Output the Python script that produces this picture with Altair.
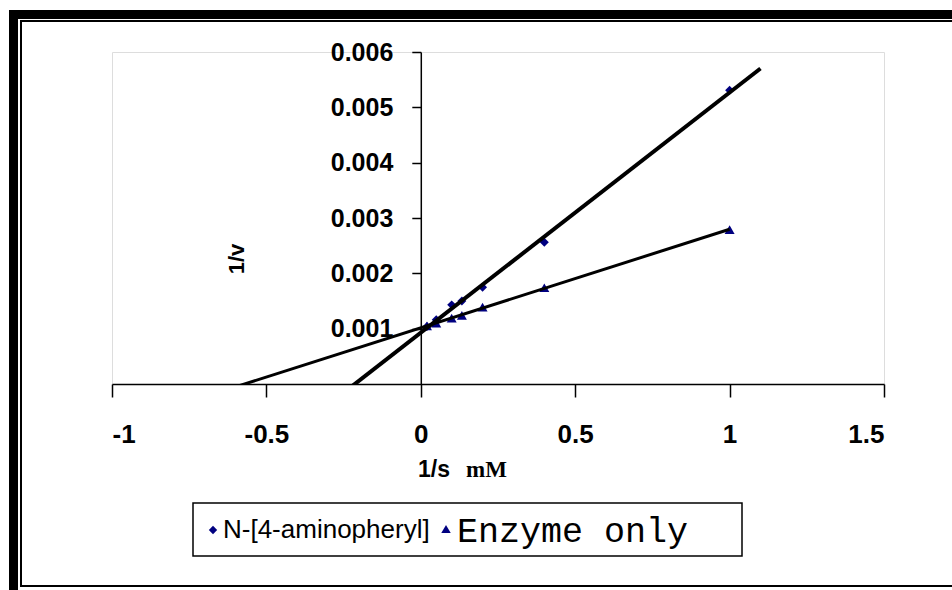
import altair as alt
import pandas as pd

# Lineweaver-Burk data: 1/[S] (mM^-1) against 1/v
inv_s_inhib = [0.02, 0.05, 0.1, 0.133, 0.2, 0.4, 1.0]
inv_v_inhib = [0.00104, 0.00116, 0.00143, 0.00150, 0.00175, 0.00256, 0.00531]

inv_s_enzyme = [0.02, 0.05, 0.1, 0.133, 0.2, 0.4, 1.0]
inv_v_enzyme = [0.00105, 0.00110, 0.00119, 0.00124, 0.00139, 0.00174, 0.00279]

series_names = ["N-[4-aminopheryl]", "Enzyme only"]

x_ticks = [-1, -0.5, 0, 0.5, 1, 1.5]
y_ticks = [0.001, 0.002, 0.003, 0.004, 0.005, 0.006]

X_MIN, X_MAX = -1.0, 1.5
Y_MIN, Y_MAX = 0.0, 0.006
W, H = 772, 332
PAD_L, PAD_T = 112, 52
NAVY = "#000080"

inhib = pd.DataFrame({"x": inv_s_inhib, "y": inv_v_inhib})
enzyme = pd.DataFrame({"x": inv_s_enzyme, "y": inv_v_enzyme})
one = pd.DataFrame({"k": [0]})

x_scale = alt.Scale(domain=[X_MIN, X_MAX], nice=False, zero=False)
y_scale = alt.Scale(domain=[Y_MIN, Y_MAX], nice=False)

# y axis sits on x = 0, shifted in from the left edge of the plot
y_offset = -W * (0 - X_MIN) / (X_MAX - X_MIN)

x_axis = alt.Axis(
    values=x_ticks, labelExpr="toString(datum.value)", title=None, grid=False,
    domainColor="black", domainWidth=1.5, tickColor="black", tickWidth=1.5,
    tickSize=13, labelPadding=24, labelFont="Liberation Sans", labelFontSize=26,
    labelFontWeight="bold", labelColor="black",
)
y_axis = alt.Axis(
    values=y_ticks, format=".3f", title=None, grid=False, offset=y_offset,
    domainColor="black", domainWidth=1.5, tickColor="black", tickWidth=1.5,
    tickSize=9, labelPadding=19, labelFont="Liberation Sans", labelFontSize=25,
    labelFontWeight="bold", labelColor="black",
)

pts_inhib = alt.Chart(inhib).mark_point(
    shape="diamond", filled=True, color=NAVY, size=80, opacity=1
).encode(
    x=alt.X("x:Q", scale=x_scale, axis=x_axis),
    y=alt.Y("y:Q", scale=y_scale, axis=y_axis),
)
pts_enzyme = alt.Chart(enzyme).mark_point(
    shape="triangle-up", filled=True, color=NAVY, size=100, opacity=1
).encode(x=alt.X("x:Q", scale=x_scale), y=alt.Y("y:Q", scale=y_scale))

# linear trendlines, extended back towards the x intercept
fit_inhib = alt.Chart(inhib).transform_regression(
    "x", "y", extent=[-0.3, 1.1]
).mark_line(color="black", strokeWidth=4, clip=True).encode(
    x=alt.X("x:Q", scale=x_scale), y=alt.Y("y:Q", scale=y_scale)
)
fit_enzyme = alt.Chart(enzyme).transform_regression(
    "x", "y", extent=[-0.7, 1.0]
).mark_line(color="black", strokeWidth=3, clip=True).encode(
    x=alt.X("x:Q", scale=x_scale), y=alt.Y("y:Q", scale=y_scale)
)

def px(v):
    return alt.value(v - PAD_L)

def py(v):
    return alt.value(v - PAD_T)

base = alt.Chart(one)

# double frame round the chart
frame_top = base.mark_rect(color="black").encode(x=px(9), x2=px(952), y=py(10), y2=py(19))
frame_left = base.mark_rect(color="black").encode(x=px(9), x2=px(18), y=py(10), y2=py(590))
frame_inner = base.mark_rect(fill=None, stroke="black", strokeWidth=2).encode(
    x=px(21), x2=px(960), y=py(21), y2=py(586)
)

y_title = base.mark_text(
    text="1/v", angle=270, font="Liberation Sans", fontSize=22, fontWeight="bold", color="black"
).encode(x=px(237), y=py(259))
x_title_a = base.mark_text(
    text="1/s", font="Liberation Sans", fontSize=23, fontWeight="bold", color="black", align="left"
).encode(x=px(418), y=py(470))
x_title_b = base.mark_text(
    text="mM", font="Liberation Serif", fontSize=23, fontWeight="bold", color="black", align="left"
).encode(x=px(466), y=py(470))

legend_box = base.mark_rect(fill="white", stroke="black", strokeWidth=1.5).encode(
    x=px(193), x2=px(742), y=py(503), y2=py(556)
)
legend_sym1 = base.mark_point(shape="diamond", filled=True, color=NAVY, size=70, opacity=1).encode(
    x=px(213), y=py(530)
)
legend_txt1 = base.mark_text(
    text=series_names[0], font="Liberation Sans", fontSize=26, color="black", align="left"
).encode(x=px(223), y=py(530))
legend_sym2 = base.mark_point(shape="triangle-up", filled=True, color=NAVY, size=90, opacity=1).encode(
    x=px(446), y=py(529)
)
legend_txt2 = base.mark_text(
    text=series_names[1], font="Liberation Mono", fontSize=35, color="black", align="left"
).encode(x=px(457), y=py(531))

chart = alt.layer(
    pts_inhib, pts_enzyme, fit_inhib, fit_enzyme,
    frame_top, frame_left, frame_inner,
    y_title, x_title_a, x_title_b,
    legend_box, legend_sym1, legend_txt1, legend_sym2, legend_txt2,
).properties(
    width=W, height=H,
    autosize=alt.AutoSizeParams(type="none"),
    padding={"left": PAD_L, "top": PAD_T, "right": 952 - PAD_L - W, "bottom": 590 - PAD_T - H},
).configure_view(stroke=None).configure(background="white")

chart.save("out.html", embed_options={"renderer": "svg", "actions": False})
